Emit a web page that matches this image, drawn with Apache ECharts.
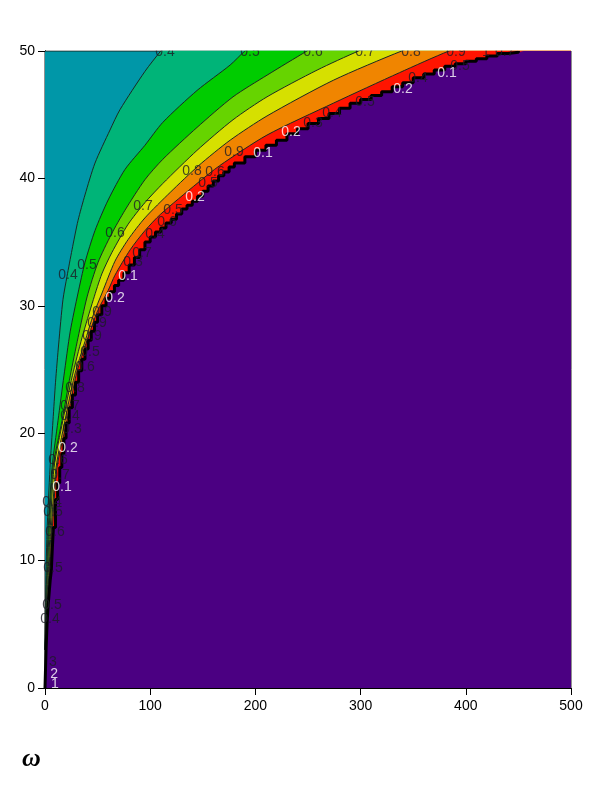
<!DOCTYPE html>
<html><head><meta charset="utf-8">
<style>html,body{margin:0;padding:0;background:#fff}#c{width:600px;height:800px}</style>
<script src="https://cdn.jsdelivr.net/npm/echarts@6/dist/echarts.min.js"></script>
</head><body><div id="c"></div>
<script>
const level04 = [[0,3],[0.5,6.9],[1.9,12.2],[4.8,17.3],[7.6,21],[10,24],[13,27],[17.1,30.5],[20.9,32.3],[25.7,34.4],[31.4,36.7],[38,38.7],[47.5,41.2],[61.8,43.8],[71.3,45.4],[95,48.4],[110,50],[125,51.5]];
const level05 = [[0,3],[1,6.9],[2.9,12.2],[6.7,17.3],[12.4,21],[18,24.5],[24,28],[31.4,31],[38,33.4],[47.5,35.9],[60,38.3],[76,40.7],[95,42.6],[112,44.4],[144.5,46.9],[176,48.9],[190,50],[210,51.2]];
const level06 = [[0,3],[1.4,6.9],[3.8,12.2],[7.6,17.3],[16.2,21],[24,24.5],[31.4,27.5],[40,30.7],[50.4,33.4],[63,35.6],[76,37.5],[95,39.9],[112,41.5],[144.5,44],[178.7,46.4],[211,48.1],[249,50],[280,51.5]];
const level07 = [[0,3],[1.9,6.9],[4.8,12.2],[8.6,17.3],[17,21],[26,24.5],[35.2,27.5],[46,30.5],[54,32.5],[63.7,34.2],[79,36.4],[95,38.1],[112,39.6],[144.5,42.2],[178.7,44.6],[211,46.4],[258.6,48.5],[298,50],[340,51.4]];
const level08 = [[0,3],[2.4,6.9],[5.7,12.2],[10.5,17.3],[19,21],[28,24.5],[38,27.2],[46,29.3],[54.2,31],[66.5,33.5],[79,35.2],[95,36.9],[119,38.9],[146,41],[176,43],[211,44.9],[274,47.7],[339,50],[380,51.2]];
const level09 = [[0,3],[2.9,6.9],[6.7,12.2],[11.4,17.3],[20.9,21],[30,24.7],[40,27.3],[50,29.6],[60,31.2],[66.5,32.4],[81,34.4],[95,35.9],[110,37.2],[144.5,39.6],[166,41],[211,43.4],[274,45.9],[337,48.3],[384,50],[420,51]];
const level10 = [[0,0],[1,3],[2,5.1],[3,6.5],[4,7.5],[5,8.5],[6,9.2],[7,11],[8,12.6],[10,14.8],[12,16.1],[14,17.3],[16,18.4],[18,19.6],[20,20.8],[23,22],[26,23],[29,24],[32,24.9],[35,25.8],[38,26.6],[41,27.3],[44,28],[47,28.7],[50,29.3],[54,30],[58,30.6],[62,31.1],[66,31.6],[70,32],[75,32.6],[80,33.2],[85,33.8],[90,34.4],[95,35],[100,35.4],[105,35.8],[110,36.1],[115,36.5],[120,36.8],[125,37.2],[130,37.6],[135,37.9],[140,38.2],[145,38.6],[150,39],[155,39.4],[160,39.8],[165,40.2],[170,40.5],[175,40.9],[180,41.2],[190,41.7],[200,42.2],[210,42.6],[220,43],[230,43.5],[240,43.9],[250,44.3],[260,44.7],[270,45.1],[280,45.5],[290,45.9],[300,46.2],[310,46.5],[320,46.8],[330,47.2],[340,47.5],[350,47.9],[360,48.2],[370,48.5],[380,48.8],[390,49],[400,49.2],[410,49.4],[420,49.6],[430,49.8],[440,49.9],[450,50]];
const topEdge = [[0,50],[500,50]];
const fillTail = [[455,51.6],[500,51.6]];
const contourTail = [[500,51.6]];
const bandColors = ['#0097a8','#00b478','#00cc00','#66d400','#d6e000','#f08500','#ff1400','#4b0082'];
const darkLabels = [[114.1,49.9,'0.4'],[194.9,49.9,'0.5'],[254.8,49.9,'0.6'],[304.2,49.9,'0.7'],[347.9,49.9,'0.8'],[390.7,49.9,'0.9'],[419.2,49.9,'1'],[437,49.9,'0.7'],[21.9,32.4,'0.4'],[39.9,33.2,'0.5'],[66.5,35.7,'0.6'],[93.2,37.8,'0.7'],[139.7,40.6,'0.8'],[179.7,42.1,'0.9'],[83.7,33.4,'0.3'],[92.2,34.1,'0.7'],[104.6,35.6,'0.4'],[116,36.6,'0.6'],[121.7,37.5,'0.5'],[154.9,39.6,'0.5'],[161.6,40.5,'0.6'],[254.8,44.3,'0.3'],[272.8,45.1,'0.4'],[304.2,46,'0.5'],[354.6,47.9,'0.4'],[394.5,48.8,'0.5'],[54.2,29.5,'0.9'],[49.4,28.6,'0.9'],[44.7,27.6,'0.9'],[42.8,26.4,'0.5'],[38,25.2,'0.6'],[28.5,23.5,'0.8'],[23.8,22.1,'0.7'],[23.8,21.3,'0.4'],[25.7,20.3,'0.3'],[12.4,17.9,'0.6'],[14.3,16.7,'0.7'],[6.7,14.6,'0.4'],[7.6,13.8,'0.5'],[9.5,12.2,'0.6'],[7.6,9.4,'0.5'],[6.7,6.5,'0.5'],[4.8,5.4,'0.4'],[7.6,2,'3']];
const whiteLabels = [[382.1,48.3,'0.1'],[340.3,47,'0.2'],[233.8,43.6,'0.2'],[207.2,42,'0.1'],[142.6,38.5,'0.2'],[78.9,32.3,'0.1'],[66.5,30.6,'0.2'],[21.9,18.8,'0.2'],[16.2,15.8,'0.1'],[8.6,1.1,'2'],[9.5,0.3,'1']];

const font = 'Liberation Sans';
const curves = [topEdge,level04,level05,level06,level07,level08,level09];
// Each contour's fill reaches the right edge above the plot top, where it is clipped.
const series = curves.map((d,i)=>({
  type:'line', data: i===0 ? d : d.concat(contourTail), symbol:'none', silent:true, animation:false,
  smooth: i===0 ? false : 0.25,
  z: 2+i*0.01,
  lineStyle: {color:'#1a2a22', width:1},
  areaStyle: {color: bandColors[i], opacity:1, origin:'start'}
}));
series.push({type:'line', data:level10.concat(fillTail), symbol:'none', step:'end', silent:true, z:2.5,
  lineStyle:{width:0,opacity:0}, areaStyle:{color:bandColors[7],opacity:1,origin:'start'}});
series.push({type:'line', data:level10, symbol:'none', step:'end', silent:true, z:2.6,
  lineStyle:{color:'#000',width:3}});
const labelSeries = (d,c)=>({
  type:'scatter', data:d, symbolSize:0.1, z:5, silent:true, animation:false,
  itemStyle:{color:'transparent'},
  label:{show:true, position:'inside', color:c, fontFamily:font, fontSize:14, formatter:p=>p.value[2]}
});
series.push(labelSeries(darkLabels,'#1c1c24'), labelSeries(whiteLabels,'#fff'));

const chart = echarts.init(document.getElementById('c'),null,{renderer:'canvas'});
const ax = {
  type:'value', splitLine:{show:false},
  axisLine:{show:true,onZero:false,lineStyle:{color:'#000',width:1}},
  axisTick:{show:true,length:7,lineStyle:{color:'#000'}},
  axisLabel:{color:'#000',fontFamily:font,fontSize:14,hideOverlap:false}
};
chart.setOption({
  animation:false,
  backgroundColor:'#fff',
  title:{text:'ω',left:17,top:741,textStyle:{fontFamily:'Liberation Serif',fontStyle:'italic',fontWeight:'bold',fontSize:26,color:'#000'}},
  grid:{left:45,right:29,top:51,bottom:112,show:true,borderColor:'#222',borderWidth:1,backgroundColor:'transparent'},
  xAxis:{...ax,min:0,max:500,interval:100,axisLabel:{...ax.axisLabel,margin:11}},
  yAxis:{...ax,min:0,max:50,interval:10,axisLabel:{...ax.axisLabel,margin:10}},
  series,
  graphic:[{type:'rect',z:100,shape:{x:46,y:0,width:554,height:50.5},style:{fill:'#fff'},silent:true}]
});
</script></body></html>
